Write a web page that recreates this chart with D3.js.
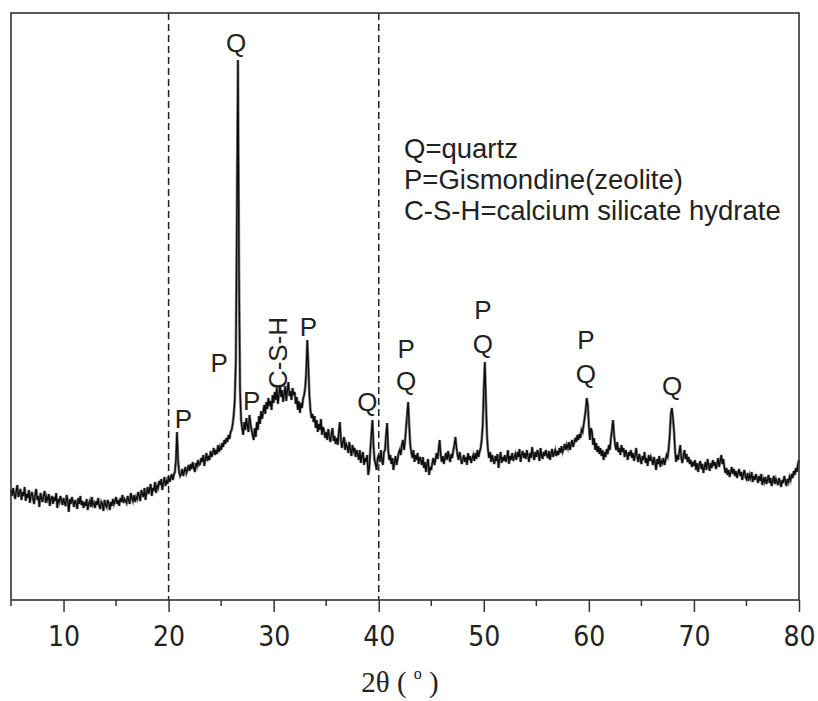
<!DOCTYPE html>
<html>
<head>
<meta charset="utf-8">
<script src="https://cdn.jsdelivr.net/npm/d3@7"></script>
<style>
  body { margin: 0; background: #fff; }
  svg { display: block; }
  .peak { font-family: "Liberation Sans", Arial, sans-serif; font-size: 26px; fill: #222; }
  .legend { font-family: "Liberation Sans", Arial, sans-serif; font-size: 27.5px; fill: #222; }
  .tick text { font-family: "Liberation Sans Narrow", "DejaVu Sans Condensed", sans-serif; font-size: 28px; fill: #222; }
</style>
</head>
<body>
<script>
// XRD pattern, step 0.1 deg from 5 to 80 (one row of ten per degree)
var startAngle = 5, stepAngle = 0.1;
var intensity = [
  110,104,112,106,101,109,115,103,107,111,
  100,108,104,113,99,106,102,110,97,105,
  108,101,96,106,111,100,104,93,107,102,
  98,105,109,97,103,100,106,94,101,104,
  96,103,99,107,92,101,98,104,100,95,
  102,97,94,105,99,88,101,96,103,98,
  93,100,97,91,102,96,104,95,99,92,
  98,94,101,90,96,99,93,103,95,97,
  92,99,95,102,94,91,98,96,89,100,
  95,93,100,97,90,98,94,101,96,99,
  103,96,100,94,102,98,105,97,101,99,
  97,104,100,96,107,102,99,105,98,103,
  101,108,104,99,110,106,103,112,100,107,
  113,106,111,116,104,112,109,118,107,114,
  112,119,115,121,110,117,123,114,119,116,
  124,118,122,126,120,125,128,140,168,140,
  128,124,126,131,124,129,133,127,130,135,
  129,136,131,138,132,128,137,134,140,135,
  136,142,138,145,134,141,147,139,144,140,
  149,143,147,152,145,150,146,155,148,153,
  150,157,153,160,156,162,158,165,161,168,
  170,176,185,200,240,380,540,330,210,180,
  172,165,178,170,182,174,168,185,176,170,
  165,160,172,163,178,170,184,176,189,181,
  188,195,186,198,191,202,194,199,190,205,
  197,208,200,212,196,205,215,203,210,198,
  206,214,199,210,218,204,209,200,212,205,
  208,196,203,190,199,187,197,192,201,205,
  212,228,260,235,205,190,182,186,178,184,
  172,180,168,176,170,181,165,173,169,162,
  168,160,171,163,158,166,172,159,164,156,
  162,155,168,178,160,152,158,163,150,156,
  153,147,158,150,144,155,149,152,143,150,
  146,140,150,137,144,148,135,142,138,145,
  125,132,150,165,180,155,140,136,130,142,
  145,138,150,140,135,148,150,165,177,150,
  140,145,136,142,130,138,144,135,141,147,
  150,145,155,160,150,158,172,185,198,175,
  155,148,142,150,138,145,140,147,136,143,
  140,135,143,132,138,128,136,141,125,133,
  130,137,142,135,140,147,141,150,160,145,
  138,144,136,142,147,140,149,143,138,146,
  142,150,155,163,152,145,140,148,142,136,
  140,145,138,143,135,147,140,144,137,142,
  145,139,147,141,150,143,148,152,160,175,
  210,238,200,165,150,142,148,138,145,140,
  136,144,139,146,132,141,148,137,143,139,
  145,138,142,150,136,144,140,147,139,143,
  146,140,148,143,151,138,145,149,142,147,
  141,150,144,138,147,142,153,145,140,148,
  143,150,146,139,152,145,141,148,144,150,
  145,142,149,140,146,151,143,147,150,144,
  149,145,152,147,154,148,151,156,150,155,
  152,158,150,155,160,153,157,162,158,165,
  160,166,162,170,168,175,182,190,202,195,
  175,160,172,168,155,162,150,157,148,154,
  146,152,144,150,140,148,143,151,146,155,
  150,162,170,180,165,155,150,158,148,152,
  145,155,148,152,143,150,146,140,148,144,
  150,142,147,139,145,152,143,138,146,141,
  136,144,140,148,137,142,134,145,139,143,
  140,135,143,138,130,141,136,144,133,139,
  137,142,135,140,145,143,152,165,185,192,
  182,170,150,138,145,140,148,155,142,137,
  144,150,141,146,138,143,136,140,133,138,
  134,140,130,137,128,135,139,131,136,127,
  133,138,130,141,135,129,137,132,140,134,
  138,131,136,142,133,139,145,136,141,132,
  127,132,125,130,123,128,133,126,131,124,
  129,122,127,131,124,128,120,126,130,123,
  121,127,119,125,122,128,118,124,120,126,
  122,117,124,119,126,115,121,118,123,116,
  120,125,117,122,114,119,124,116,121,118,
  115,122,118,113,120,117,124,119,114,121,
  118,123,120,126,122,129,125,132,128,136,
  140
];

// phase labels: angle and baseline
var peakLabels = [
  {a: 21.7, y: 428, t: "P"},
  {a: 25.1, y: 372, t: "P"},
  {a: 26.7, y: 52, t: "Q"},
  {a: 28.2, y: 410, t: "P"},
  {a: 33.6, y: 336, t: "P"},
  {a: 39.2, y: 411, t: "Q"},
  {a: 42.9, y: 358, t: "P"},
  {a: 42.9, y: 390, t: "Q"},
  {a: 50.2, y: 319, t: "P"},
  {a: 50.2, y: 353, t: "Q"},
  {a: 60.0, y: 349, t: "P"},
  {a: 60.0, y: 383, t: "Q"},
  {a: 68.2, y: 395, t: "Q"}
];
var legendLines = ["Q=quartz", "P=Gismondine(zeolite)", "C-S-H=calcium silicate hydrate"];
var xTicks = [10, 20, 30, 40, 50, 60, 70, 80];
var minorTicks = [5, 15, 25, 35, 45, 55, 65, 75];
var dashedAt = [20, 40];

(function(){
var width = 818, height = 701;
var padL = 11, padR = 799, padT = 13, padB = 600;

var svg = d3.select("body").append("svg")
    .attr("width", width)
    .attr("height", height);

var x = d3.scaleLinear().domain([5, 80]).range([padL, padR]);
var y = d3.scaleLinear().domain([0, 587]).range([padB, padT]);

var points = intensity.map(function(v, i){
    return [startAngle + i * stepAngle, v];
});

//dashed guide lines
svg.selectAll(".guide")
    .data(dashedAt)
    .enter()
    .append("line")
    .attr("x1", function(d){ return x(d); })
    .attr("x2", function(d){ return x(d); })
    .attr("y1", padT)
    .attr("y2", padB)
    .attr("stroke", "#222")
    .attr("stroke-width", 1.5)
    .attr("stroke-dasharray", "7,4");

//pattern, grey halo under a dark core like the scanned trace
var line = d3.line()
    .x(function(d){ return x(d[0]); })
    .y(function(d){ return y(d[1]); });

svg.append("path")
    .datum(points)
    .attr("fill", "none")
    .attr("stroke", "#8a8a8a")
    .attr("stroke-width", 2.8)
    .attr("d", line);
svg.append("path")
    .datum(points)
    .attr("fill", "none")
    .attr("stroke", "#0d0d0d")
    .attr("stroke-width", 1.4)
    .attr("d", line);

//frame
svg.append("rect")
    .attr("x", padL)
    .attr("y", padT)
    .attr("width", padR - padL)
    .attr("height", padB - padT)
    .attr("fill", "none")
    .attr("stroke", "#333")
    .attr("stroke-width", 1.6);

//x axis
var xAxis = d3.axisBottom(x)
    .tickValues(xTicks)
    .tickSize(12)
    .tickPadding(14)
    .tickFormat(d3.format("d"));
var gx = svg.append("g")
    .attr("transform", "translate(0," + padB + ")")
    .call(xAxis);
gx.select(".domain").remove();
gx.selectAll(".tick line").attr("stroke", "#333").attr("stroke-width", 1.5);

svg.append("g")
    .selectAll("line")
    .data(minorTicks)
    .enter()
    .append("line")
    .attr("x1", function(d){ return x(d); })
    .attr("x2", function(d){ return x(d); })
    .attr("y1", padB)
    .attr("y2", padB + 6)
    .attr("stroke", "#333")
    .attr("stroke-width", 1.5);

//axis title
var title = svg.append("text")
    .attr("x", 400)
    .attr("y", 692)
    .attr("text-anchor", "middle")
    .style("font-family", "'Liberation Serif', 'Times New Roman', serif")
    .style("font-size", "29px")
    .style("fill", "#222");
title.append("tspan").text("2θ ( ");
title.append("tspan").text("o").style("font-size", "16px").attr("dy", -13);
title.append("tspan").text(" )").attr("dy", 13);

//peak labels
svg.selectAll(".peak")
    .data(peakLabels)
    .enter()
    .append("text")
    .attr("class", "peak")
    .attr("text-anchor", "middle")
    .attr("x", function(d){ return x(d.a) - 3; })
    .attr("y", function(d){ return d.y; })
    .text(function(d){ return d.t; });

svg.append("text")
    .attr("class", "peak")
    .attr("text-anchor", "middle")
    .attr("transform", "translate(287,353) rotate(-90)")
    .text("C-S-H");

//legend
svg.selectAll(".legend")
    .data(legendLines)
    .enter()
    .append("text")
    .attr("class", "legend")
    .attr("x", 404)
    .attr("y", function(d, i){ return 158 + i * 31; })
    .text(function(d){ return d; });
})();
</script>
</body>
</html>
